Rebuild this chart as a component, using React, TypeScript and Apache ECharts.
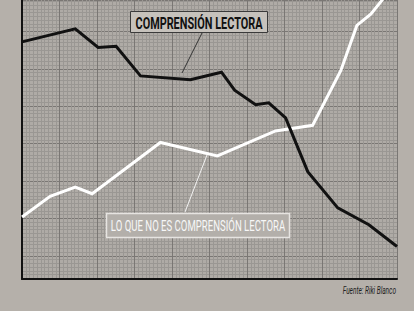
import { useEffect, useRef } from "react";
import * as echarts from "echarts";

// x: position along the period (0–100), y: level (arbitrary units)
const readingX = [0, 14.2, 20.3, 25.1, 31.6, 44.9, 53.2, 56.7, 62.3, 65.8, 70.3, 76.2, 84.2, 92.5, 100];
const readingY = [57.2, 60.7, 55.7, 56.0, 48.1, 47.1, 49.1, 44.3, 40.4, 40.9, 36.9, 22.5, 12.8, 8.3, 2.5];

const otherX = [0, 7.5, 14.2, 18.7, 36.9, 52.1, 67.6, 77.5, 85.0, 89.3, 93.0, 100];
const otherY = [10.4, 15.9, 18.4, 16.6, 30.3, 26.7, 33.4, 34.9, 49.5, 61.6, 64.6, 73.3];

const seriesNames = ["COMPRENSIÓN LECTORA", "LO QUE NO ES COMPRENSIÓN LECTORA"];
const sourceText = "Fuente: Riki Blanco";

const X_MIN = 0;
const X_MAX = 100;
const Y_MIN = -6.2;
const Y_MAX = 68.4;

export default function App() {
  const ref = useRef<HTMLDivElement>(null);

  useEffect(() => {
    if (!ref.current) return;
    const chart = echarts.init(ref.current, undefined, { renderer: "svg" });

    const reading = readingX.map((x, i) => [x, readingY[i]]);
    const other = otherX.map((x, i) => [x, otherY[i]]);

    const minor = { show: true, lineStyle: { color: "#9a9793", width: 1 } };
    const major = { show: true, lineStyle: { color: "#7a7774", width: 1 } };

    chart.setOption({
      animation: false,
      backgroundColor: "#b5b0aa",
      grid: {
        left: 22,
        right: 17,
        top: 0,
        bottom: 32,
        show: true,
        backgroundColor: "#afaba6",
        borderWidth: 0,
      },
      xAxis: {
        type: "value",
        min: X_MIN,
        max: X_MAX,
        interval: 10,
        axisLine: { show: true, onZero: false, lineStyle: { color: "#111", width: 2 } },
        axisTick: { show: false },
        axisLabel: { show: false },
        splitLine: major,
        minorTick: { show: false, splitNumber: 10 },
        minorSplitLine: minor,
      },
      yAxis: {
        type: "value",
        min: Y_MIN,
        max: Y_MAX,
        splitNumber: 7,
        axisLine: { show: true, onZero: false, lineStyle: { color: "#111", width: 2 } },
        axisTick: { show: false },
        axisLabel: { show: false },
        splitLine: major,
        minorTick: { show: false, splitNumber: 10 },
        minorSplitLine: minor,
      },
      series: [
        {
          name: seriesNames[1],
          type: "line",
          data: other,
          symbol: "none",
          lineStyle: { color: "#ffffff", width: 3, join: "miter" },
          z: 3,
        },
        {
          name: seriesNames[0],
          type: "line",
          data: reading,
          symbol: "none",
          lineStyle: { color: "#111111", width: 3, join: "miter" },
          z: 4,
        },
      ],
      graphic: [
        {
          type: "line",
          z: 20,
          shape: { x1: 202, y1: 33, x2: 182, y2: 73 },
          style: { stroke: "#333", lineWidth: 1 },
        },
        {
          type: "rect",
          z: 20,
          shape: { x: 130.5, y: 11.5, width: 137, height: 21 },
          style: { fill: "#c6c2bc", stroke: "#3a3a3a", lineWidth: 1 },
        },
        {
          type: "text",
          z: 21,
          x: 199,
          y: 23,
          scaleX: 0.64,
          style: {
            text: seriesNames[0],
            fill: "#111",
            fontSize: 17,
            fontWeight: "bold",
            fontFamily: "Roboto",
            align: "center",
            verticalAlign: "middle",
          },
        },
        {
          type: "line",
          z: 20,
          shape: { x1: 185, y1: 212, x2: 207, y2: 155 },
          style: { stroke: "#f2f2f2", lineWidth: 1 },
        },
        {
          type: "rect",
          z: 20,
          shape: { x: 106.5, y: 213.5, width: 183, height: 24 },
          style: { fill: "#b3afaa", stroke: "#e6e4e1", lineWidth: 1.5 },
        },
        {
          type: "text",
          z: 21,
          x: 198,
          y: 226,
          scaleX: 0.685,
          style: {
            text: seriesNames[1],
            fill: "#f7f7f7",
            fontSize: 14,
            fontWeight: "normal",
            fontFamily: "Roboto",
            align: "center",
            verticalAlign: "middle",
          },
        },
        {
          type: "text",
          z: 21,
          x: 396,
          y: 290,
          scaleX: 0.62,
          style: {
            text: sourceText,
            fill: "#222",
            fontSize: 10.5,
            fontStyle: "italic",
            fontFamily: "Roboto",
            align: "right",
            verticalAlign: "middle",
          },
        },
      ],
    });

    return () => chart.dispose();
  }, []);

  return (
    <div
      ref={ref}
      style={{ position: "fixed", left: 0, top: 0, width: 414, height: 311 }}
    />
  );
}
